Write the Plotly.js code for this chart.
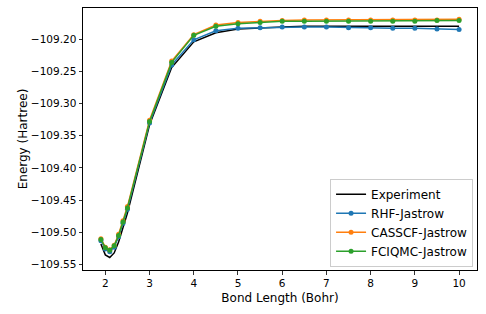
<!DOCTYPE html>
<html>
<head>
<meta charset="utf-8">
<script src="https://cdn.plot.ly/plotly-3.0.1.min.js"></script>
<style>html,body{margin:0;padding:0;background:#fff;}#chart{width:486px;height:314px;}</style>
</head>
<body>
<div id="chart"></div>
<script>
const bondLength = [1.9, 2.0, 2.1, 2.2, 2.3, 2.4, 2.5, 3.0, 3.5, 4.0, 4.5, 5.0, 5.5, 6.0, 6.5, 7.0, 7.5, 8.0, 8.5, 9.0, 9.5, 10.0];
const experiment = [-109.518, -109.535, -109.539, -109.532, -109.515, -109.493, -109.470, -109.333, -109.244, -109.204, -109.190, -109.184, -109.182, -109.181, -109.180, -109.180, -109.180, -109.180, -109.180, -109.180, -109.180, -109.180];
const rhf = [-109.513, -109.526, -109.530, -109.523, -109.507, -109.486, -109.464, -109.330, -109.240, -109.201, -109.187, -109.183, -109.182, -109.181, -109.181, -109.181, -109.182, -109.182, -109.183, -109.183, -109.184, -109.185];
const casscf = [-109.510, -109.523, -109.527, -109.520, -109.503, -109.482, -109.460, -109.326, -109.234, -109.193, -109.178, -109.174, -109.172, -109.171, -109.170, -109.170, -109.170, -109.170, -109.170, -109.170, -109.170, -109.169];
const fciqmc = [-109.511, -109.524, -109.528, -109.521, -109.505, -109.484, -109.462, -109.328, -109.236, -109.194, -109.180, -109.176, -109.174, -109.172, -109.172, -109.172, -109.172, -109.172, -109.172, -109.172, -109.171, -109.171];
const errRHF = bondLength.map(() => 0.001);
const errCAS = bondLength.map(() => 0.001);
const errFCI = bondLength.map(() => 0.001);
const yTicks = [-109.55, -109.50, -109.45, -109.40, -109.35, -109.30, -109.25, -109.20];
const yTickText = yTicks.map(v => '\u2212' + Math.abs(v).toFixed(2));
const xTicks = [2, 3, 4, 5, 6, 7, 8, 9, 10];

const tickFont = {family: 'DejaVu Sans', size: 10.5, color: '#000'};
const titleFont = {family: 'DejaVu Sans', size: 12, color: '#000'};
const legendFont = {family: 'DejaVu Sans', size: 12, color: '#000'};
function series(name, y, err, color) {
  return {
    x: bondLength, y: y, name: name, type: 'scatter', mode: 'lines+markers',
    line: {color: color, width: 1.5},
    marker: {color: color, size: 5},
    error_y: {type: 'data', array: err, visible: true, color: color, thickness: 1.5, width: 0}
  };
}
const data = [
  {x: bondLength, y: experiment, name: 'Experiment', type: 'scatter', mode: 'lines', line: {color: '#000', width: 1.5}},
  series('RHF-Jastrow', rhf, errRHF, '#1f77b4'),
  series('CASSCF-Jastrow', casscf, errCAS, '#ff7f0e'),
  series('FCIQMC-Jastrow', fciqmc, errFCI, '#2ca02c')
];
const layout = {
  width: 486, height: 314,
  margin: {l: 83, r: 9, t: 8, b: 44},
  paper_bgcolor: '#fff', plot_bgcolor: '#fff',
  font: tickFont,
  showlegend: true,
  xaxis: {
    range: [1.495, 10.405], tickvals: xTicks, ticktext: xTicks.map(String),
    showgrid: false, zeroline: false, showline: true, mirror: true, linecolor: '#000', linewidth: 1,
    ticks: 'outside', ticklen: 3.5, tickwidth: 0.8, tickcolor: '#000', tickfont: tickFont,
    title: {text: 'Bond Length (Bohr)', font: titleFont, standoff: 5}
  },
  yaxis: {
    range: [-109.5585, -109.1515], tickvals: yTicks, ticktext: yTickText,
    showgrid: false, zeroline: false, showline: true, mirror: true, linecolor: '#000', linewidth: 1,
    ticks: 'outside', ticklen: 3.5, tickwidth: 0.8, tickcolor: '#000', tickfont: tickFont,
    title: {text: 'Energy (Hartree)', font: titleFont, standoff: 0}
  },
  legend: {
    x: 0.99, xanchor: 'right', y: 0.012, yanchor: 'bottom',
    bgcolor: 'rgba(255,255,255,0.8)', bordercolor: '#ccc', borderwidth: 1,
    font: legendFont, tracegroupgap: 0
  }
};
Plotly.newPlot('chart', data, layout, {staticPlot: true, displayModeBar: false});
</script>
</body>
</html>
